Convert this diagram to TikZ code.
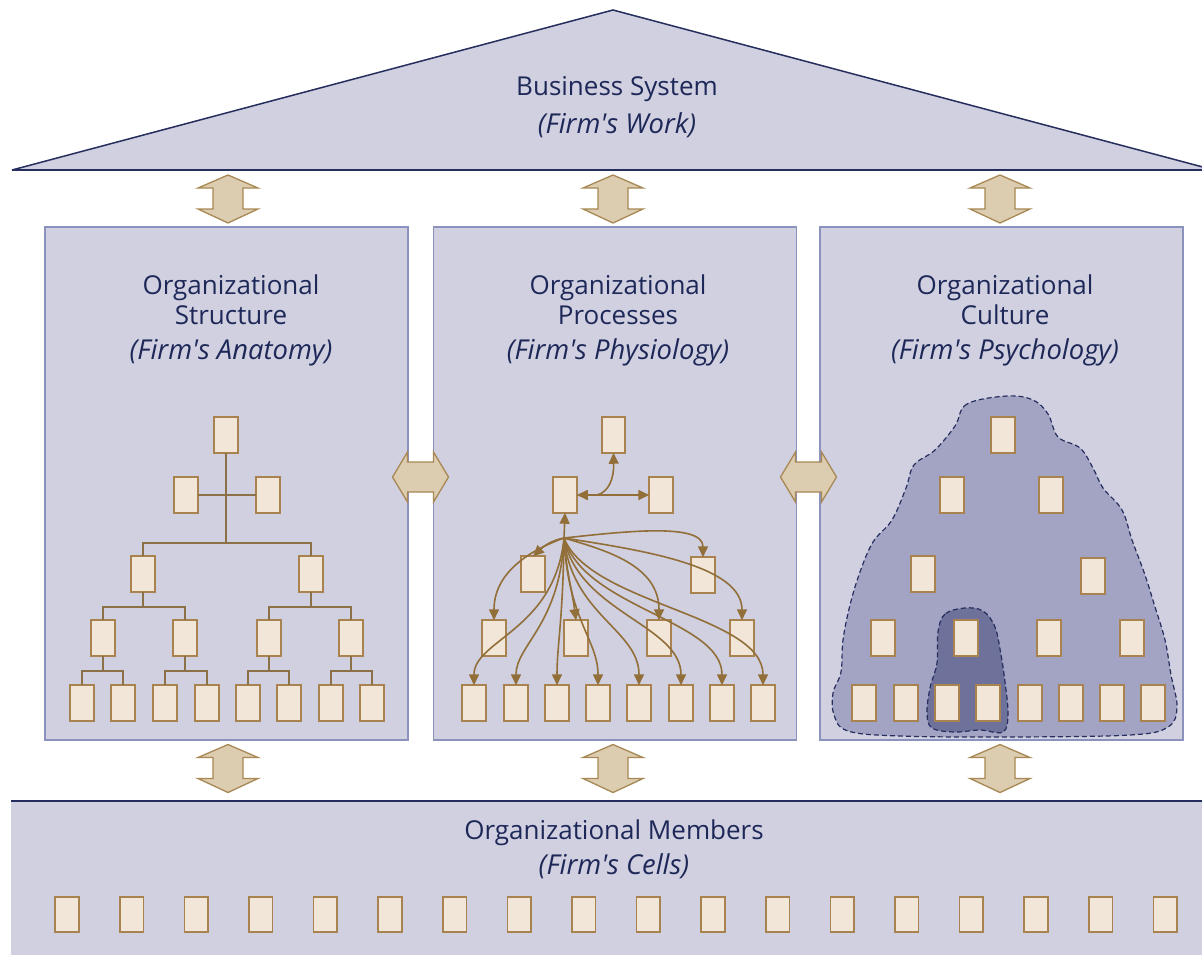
\documentclass[tikz,border=0pt]{standalone}
\usepackage{fontspec}
\setmainfont{Open Sans}
\usetikzlibrary{arrows.meta}
\definecolor{panelfill}{RGB}{208,208,224}
\definecolor{panelline}{RGB}{140,146,190}
\definecolor{navy}{RGB}{38,46,94}
\definecolor{txt}{RGB}{30,40,88}
\definecolor{boxfill}{RGB}{242,230,216}
\definecolor{boxline}{RGB}{168,131,79}
\definecolor{arrfill}{RGB}{220,204,176}
\definecolor{arrline}{RGB}{168,136,84}
\definecolor{pbrown}{RGB}{146,110,56}
\definecolor{orgline}{RGB}{140,112,70}
\definecolor{blobout}{RGB}{163,164,196}
\definecolor{blobin}{RGB}{110,113,153}
\newcommand{\apos}{\textquotesingle}
\tikzset{
  bx/.style={draw=boxline, fill=boxfill, line width=1.6pt, minimum width=23.5pt, minimum height=35.5pt, inner sep=0pt, outer sep=0pt},
  panel/.style={draw=panelline, fill=panelfill, line width=1.2pt, minimum width=363pt, minimum height=513pt, inner sep=0pt},
  bigarrow/.style={draw=arrline, fill=arrfill, line width=1.3pt, line join=miter},
  vdarrow/.pic={\draw[bigarrow] (0,-24) -- (30,-11) -- (15,-11) -- (15,10) -- (30,10) -- (0,24) -- (-30,10) -- (-15,10) -- (-15,-11) -- (-30,-11) -- cycle;},
  hdarrow/.pic={\draw[bigarrow] (-28,0) -- (-13,-25) -- (-13,-15) -- (13,-15) -- (13,-25) -- (28,0) -- (13,25) -- (13,15) -- (-13,15) -- (-13,25) -- cycle;},
  ttl/.style={text=txt, font=\fontsize{26}{30}\selectfont, anchor=base, inner sep=0pt},
  ttli/.style={ttl, font=\fontsize{27.4}{31}\selectfont\itshape},
  org/.style={draw=orgline, line width=1.8pt},
  parrow/.style={draw=pbrown, line width=1.6pt, -{Triangle[length=11pt,width=10pt]}},
  blob/.style={draw=navy, line width=1.2pt, dash pattern=on 5pt off 3pt},
}
\begin{document}
\begin{tikzpicture}[x=1pt,y=-1pt]
\useasboundingbox (0,0) rectangle (1202,954);
\fill[white] (0,0) rectangle (1202,954);
% roof
\fill[panelfill] (12,170) -- (613,10) -- (1214,170) -- cycle;
\draw[navy, line width=1.5pt] (12,170) -- (613,10) -- (1214,170);
\draw[navy, line width=2pt] (12,170) -- (1214,170);
\node[ttl] (bs) at (617,95) {Business System};
\node[ttli] (bsw) at (617,133) {(Firm\apos s Work)};
% bottom band
\fill[panelfill] (11,801) rectangle (1210,960);
\draw[navy, line width=2pt] (11,801) -- (1210,801);
\node[ttl] (om) at (614,839) {Organizational Members};
\node[ttli] (omc) at (614,874) {(Firm\apos s Cells)};
\foreach \i in {1,...,18} \node[bx] (m\i) at ({67+(\i-1)*64.6},914.5) {};
% panels
\node[panel] (pstruct) at (226.5,483.5) {};
\node[panel] (pproc) at (615,483.5) {};
\node[panel] (pcult) at (1001.5,483.5) {};
% big arrows
\foreach \x in {228,613,1000} {
  \pic at (\x,199) {vdarrow};
  \pic at (\x,768.5) {vdarrow};
}
\pic at (420.5,477) {hdarrow};
\pic at (808.5,477) {hdarrow};
% panel titles
\node[ttl] (t1a) at (231,294) {Organizational};
\node[ttl] (t1b) at (231,324) {Structure};
\node[ttli] (t1c) at (231,359) {(Firm\apos s Anatomy)};
\node[ttl] (t2a) at (618,294) {Organizational};
\node[ttl] (t2b) at (618,324) {Processes};
\node[ttli] (t2c) at (618,359) {(Firm\apos s Physiology)};
\node[ttl] (t3a) at (1005,294) {Organizational};
\node[ttl] (t3b) at (1005,324) {Culture};
\node[ttli] (t3c) at (1005,359) {(Firm\apos s Psychology)};
% ---- structure panel
\node[bx] (s0) at (226,435) {};
\node[bx] (s1a) at (186,495) {};
\node[bx] (s1b) at (268,495) {};
\node[bx] (s2a) at (143,574) {};
\node[bx] (s2b) at (311,574) {};
\node[bx] (s3a) at (103,638) {};
\node[bx] (s3b) at (185,638) {};
\node[bx] (s3c) at (269,638) {};
\node[bx] (s3d) at (351,638) {};
\foreach \x [count=\i] in {82,123,165,207,248,289,331,372} \node[bx] (s4-\i) at (\x,703) {};
\coordinate (j0) at (226,543);
\coordinate (j1) at (143,607);
\coordinate (j2) at (311,607);
\coordinate (k1) at (103,671);
\coordinate (k2) at (185,671);
\coordinate (k3) at (269,671);
\coordinate (k4) at (351,671);
\draw[org] (s0.south) -- (j0);
\draw[org] (s1a.east) -- (s1b.west);
\draw[org] (s2a.north) |- (j0) -| (s2b.north);
\draw[org] (s2a.south) -- (j1);
\draw[org] (s2b.south) -- (j2);
\draw[org] (s3a.north) |- (j1) -| (s3b.north);
\draw[org] (s3c.north) |- (j2) -| (s3d.north);
\draw[org] (s3a.south) -- (k1);
\draw[org] (s3b.south) -- (k2);
\draw[org] (s3c.south) -- (k3);
\draw[org] (s3d.south) -- (k4);
\draw[org] (s4-1.north) |- (k1) -| (s4-2.north);
\draw[org] (s4-3.north) |- (k2) -| (s4-4.north);
\draw[org] (s4-5.north) |- (k3) -| (s4-6.north);
\draw[org] (s4-7.north) |- (k4) -| (s4-8.north);
% ---- processes panel
\node[bx] (p0) at (613.5,435) {};
\node[bx] (p1a) at (565,495) {};
\node[bx] (p1b) at (661,495) {};
\node[bx] (p2a) at (533,574) {};
\node[bx] (p2b) at (703,575) {};
\node[bx] (p3a) at (494,638) {};
\node[bx] (p3b) at (576,638) {};
\node[bx] (p3c) at (659,638) {};
\node[bx] (p3d) at (742,638) {};
\foreach \x [count=\i] in {474,516,557,598,639,681,722,763} \node[bx] (p4-\i) at (\x,703) {};
\coordinate (hub) at (564,538);
\coordinate (jp) at (597,495);
\draw[parrow, {Triangle[length=11pt,width=10pt]}-{Triangle[length=11pt,width=10pt]}] (p1a.east) -- (p1b.west);
\draw[parrow] (jp) .. controls (609,492) and (614,478) .. (p0.south);
\draw[parrow] (hub) -- (p1a.south);
\draw[parrow] (hub) .. controls (553,540) and (545,545) .. (p2a.north);
\draw[parrow] (hub) .. controls (620,532) and (703,522) .. (p2b.north);
\draw[parrow] (hub) .. controls (525,552) and (494,575) .. (p3a.north);
\draw[parrow] (hub) .. controls (566,570) and (572,590) .. (p3b.north);
\draw[parrow] (hub) .. controls (605,550) and (659,565) .. (p3c.north);
\draw[parrow] (hub) .. controls (640,550) and (742,565) .. (p3d.north);
\draw[parrow] (hub) .. controls (555,630) and (474,640) .. (p4-1.north);
\draw[parrow] (hub) .. controls (560,625) and (516,645) .. (p4-2.north);
\draw[parrow] (hub) .. controls (563,620) and (557,645) .. (p4-3.north);
\draw[parrow] (hub) .. controls (568,620) and (598,640) .. (p4-4.north);
\draw[parrow] (hub) .. controls (572,615) and (639,630) .. (p4-5.north);
\draw[parrow] (hub) .. controls (578,612) and (681,625) .. (p4-6.north);
\draw[parrow] (hub) .. controls (584,608) and (722,620) .. (p4-7.north);
\draw[parrow] (hub) .. controls (590,604) and (763,615) .. (p4-8.north);
% ---- culture panel
\draw[blob, fill=blobout] plot[smooth cycle, tension=0.6] coordinates {
 (1007,396) (967,404) (955,426) (935,450) (914,465) (906,488) (892,520) (873,542)
 (860,572) (850,605) (843,640) (841,672) (833,693) (834,715) (848,731) (900,736)
 (1010,737) (1130,735) (1168,727) (1177,707) (1171,675) (1165,640) (1155,607)
 (1145,575) (1132,540) (1122,510) (1103,488) (1093,468) (1080,448) (1058,437)
 (1048,414) (1033,400)};
\draw[blob, fill=blobin] plot[smooth cycle, tension=0.6] coordinates {
 (965,608) (945,614) (938,632) (937,663) (930,688) (927,713) (932,728) (955,732)
 (980,730) (1003,732) (1008,714) (1005,682) (1001,655) (995,627) (983,611)};
\node[bx] (c0) at (1003,435) {};
\node[bx] (c1a) at (952,495) {};
\node[bx] (c1b) at (1051,495) {};
\node[bx] (c2a) at (923,574) {};
\node[bx] (c2b) at (1093,576) {};
\foreach \x [count=\i] in {883,966,1049,1132} \node[bx] (c3-\i) at (\x,638) {};
\foreach \x [count=\i] in {864,906,947,988,1030,1071,1112,1153} \node[bx] (c4-\i) at (\x,703) {};
\end{tikzpicture}
\end{document}
